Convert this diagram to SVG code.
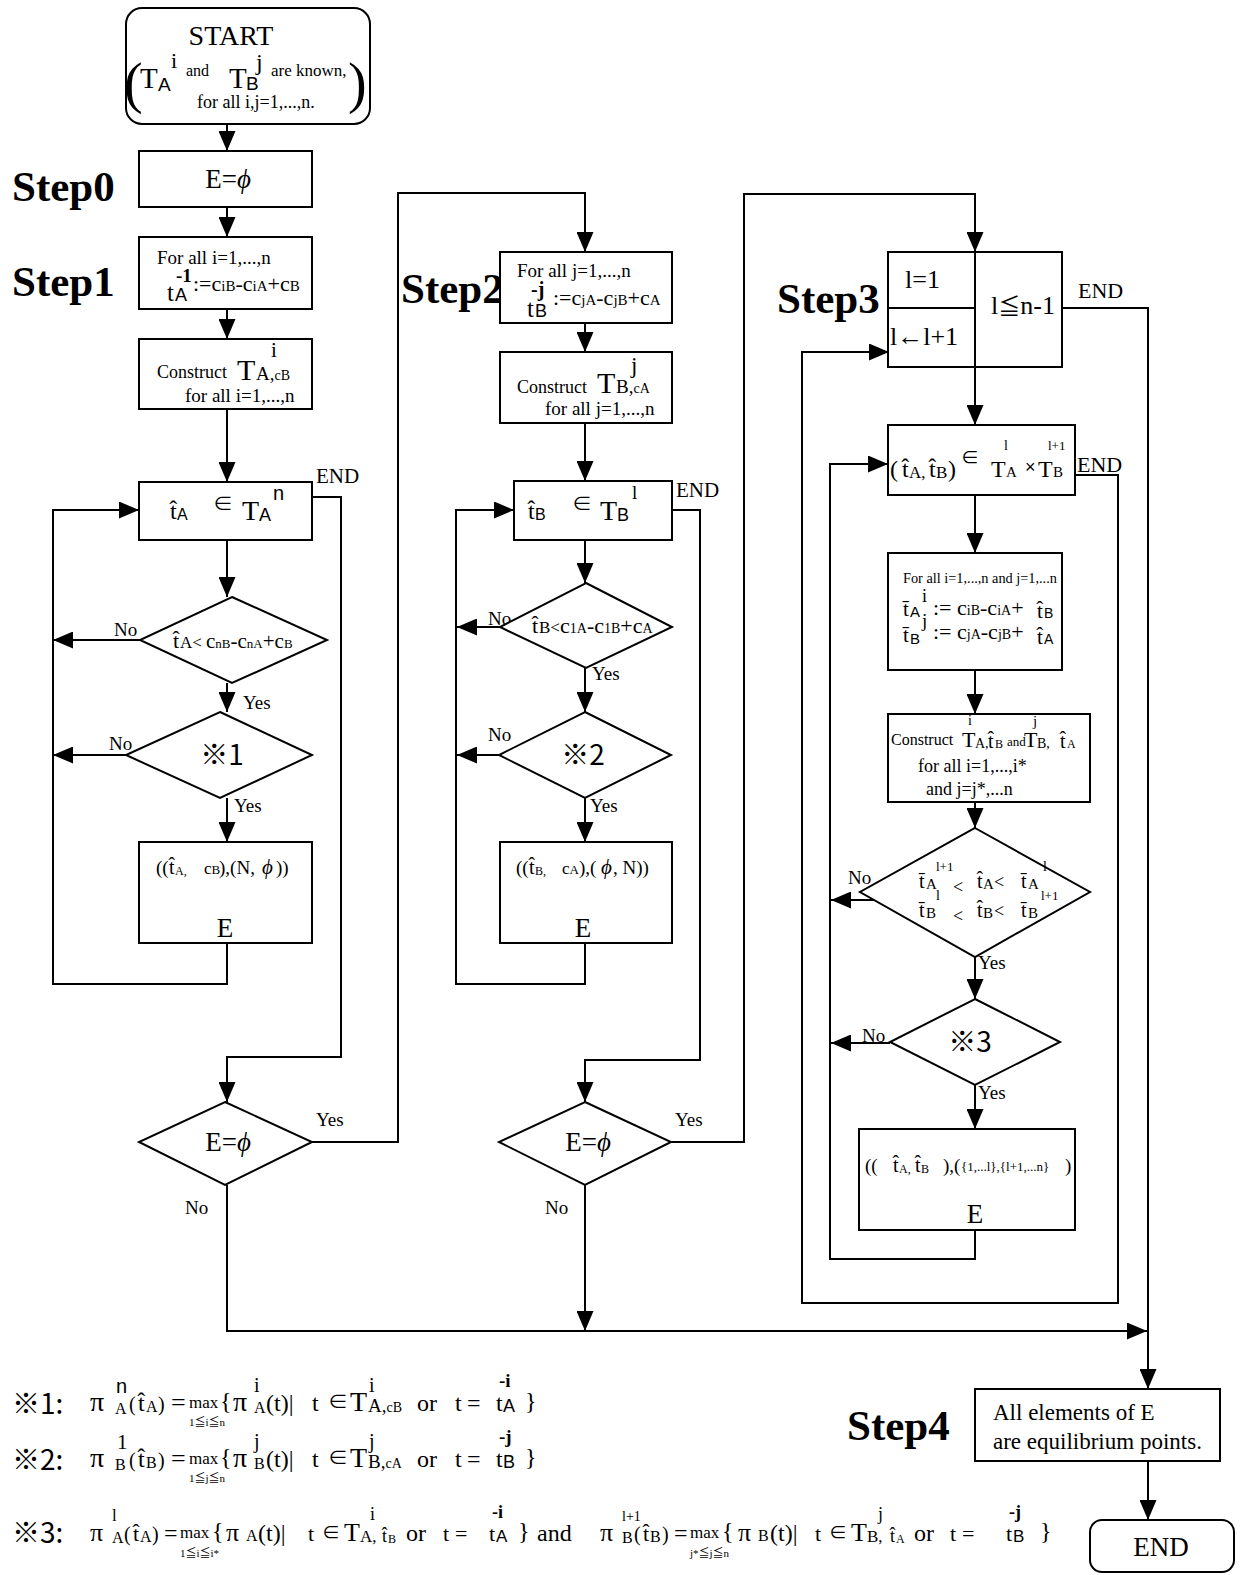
<svg xmlns="http://www.w3.org/2000/svg" width="1241" height="1575" viewBox="0 0 1241 1575">
<defs>
<style>
.ln{stroke:#000;stroke-width:2;fill:none}
.bx{stroke:#000;stroke-width:2;fill:#fff}
text{font-family:"Liberation Serif","Times New Roman","Noto Sans CJK JP",serif;fill:#000}
.sans{font-family:"Liberation Sans",Arial,sans-serif}
.cjk{font-family:"Noto Sans CJK JP",sans-serif}
.step{font-weight:bold;font-size:43px}
.lb{font-size:19px}
</style>
<marker id="ah" markerUnits="userSpaceOnUse" markerWidth="20" markerHeight="17" refX="20" refY="8.5" orient="auto"><path d="M0,0 L20,8.5 L0,17 z" fill="#000"/></marker>
</defs>
<rect width="1241" height="1575" fill="#fff"/>

<g id="connectors" class="ln">
<path d="M227,124V151" marker-end="url(#ah)"/>
<path d="M227,207V237" marker-end="url(#ah)"/>
<path d="M227,309V339" marker-end="url(#ah)"/>
<path d="M227,409V482" marker-end="url(#ah)"/>
<path d="M227,540V597" marker-end="url(#ah)"/>
<path d="M227,683V712" marker-end="url(#ah)"/>
<path d="M227,798V842" marker-end="url(#ah)"/>
<path d="M227,884V912" marker-end="url(#ah)"/>
<path d="M227,943V984H53V510H139" marker-end="url(#ah)"/>
<path d="M140,640H53" marker-end="url(#ah)"/>
<path d="M126,755H53" marker-end="url(#ah)"/>
<path d="M312,497H341V1057H227V1102" marker-end="url(#ah)"/>
<path d="M311,1142H398V193H585V252" marker-end="url(#ah)"/>
<path d="M227,1185V1331H1147" marker-end="url(#ah)"/>

<path d="M585,323V352" marker-end="url(#ah)"/>
<path d="M585,423V481" marker-end="url(#ah)"/>
<path d="M585,540V583" marker-end="url(#ah)"/>
<path d="M585,668V712" marker-end="url(#ah)"/>
<path d="M585,798V842" marker-end="url(#ah)"/>
<path d="M585,884V912" marker-end="url(#ah)"/>
<path d="M585,943V984H456V510H514" marker-end="url(#ah)"/>
<path d="M500,627H457" marker-end="url(#ah)"/>
<path d="M499,755H457" marker-end="url(#ah)"/>
<path d="M672,510H700V1060H585V1102" marker-end="url(#ah)"/>
<path d="M671,1142H744V194H975V252" marker-end="url(#ah)"/>
<path d="M585,1185V1331" marker-end="url(#ah)"/>

<path d="M975,367V425" marker-end="url(#ah)"/>
<path d="M975,495V553" marker-end="url(#ah)"/>
<path d="M975,670V714" marker-end="url(#ah)"/>
<path d="M975,802V828" marker-end="url(#ah)"/>
<path d="M975,957V999" marker-end="url(#ah)"/>
<path d="M975,1085V1129" marker-end="url(#ah)"/>
<path d="M975,1176V1202" marker-end="url(#ah)"/>
<path d="M975,1230V1259H830V464H888" marker-end="url(#ah)"/>
<path d="M874,900H831" marker-end="url(#ah)"/>
<path d="M890,1043H831" marker-end="url(#ah)"/>
<path d="M1075,475H1118V1303H802V352H889" marker-end="url(#ah)"/>
<path d="M1062,308H1148V1389" marker-end="url(#ah)"/>
<path d="M1148,1461V1520" marker-end="url(#ah)"/>
</g>

<g id="labels" class="lb">
<text x="316" y="483" font-size="21">END</text>
<text x="114" y="636">No</text>
<text x="109" y="750">No</text>
<text x="243" y="709">Yes</text>
<text x="234" y="812">Yes</text>
<text x="316" y="1126">Yes</text>
<text x="185" y="1214">No</text>
<text x="676" y="497" font-size="21">END</text>
<text x="488" y="625">No</text>
<text x="488" y="741">No</text>
<text x="592" y="680">Yes</text>
<text x="590" y="812">Yes</text>
<text x="675" y="1126">Yes</text>
<text x="545" y="1214">No</text>
<text x="1078" y="298" font-size="22">END</text>
<text x="1077" y="472" font-size="22">END</text>
<text x="848" y="884">No</text>
<text x="978" y="969">Yes</text>
<text x="862" y="1042">No</text>
<text x="978" y="1099">Yes</text>
</g>

<g id="steps" class="step">
<text x="12" y="201">Step0</text>
<text x="12" y="296">Step1</text>
<text x="401" y="303">Step2</text>
<text x="777" y="313">Step3</text>
<text x="847" y="1440">Step4</text>
</g>

<g id="start">
<rect x="126" y="8" width="244" height="116" rx="16" class="bx"/>
<text x="231" y="45" font-size="28" text-anchor="middle">START</text>
<text x="124" y="102" font-size="56">(</text>
<text x="140" y="88" font-size="29">T</text>
<text x="158" y="91" font-size="19" class="sans">A</text>
<text x="171" y="68" font-size="22">i</text>
<text x="186" y="76" font-size="16">and</text>
<text x="229" y="88" font-size="29">T</text>
<text x="246" y="90" font-size="19" class="sans">B</text>
<text x="256" y="70" font-size="24">j</text>
<text x="271" y="76" font-size="17">are known,</text>
<text x="348" y="102" font-size="56">)</text>
<text x="197" y="108" font-size="18">for all i,j=1,...,n.</text>
</g>

<g id="step0">
<rect x="139" y="151" width="173" height="56" class="bx"/>
<text x="228" y="188" font-size="27" text-anchor="middle">E=<tspan font-style="italic">ϕ</tspan></text>
</g>

<g id="step1">
<rect x="139" y="237" width="173" height="72" class="bx"/>
<text x="157" y="264" font-size="19">For all i=1,...,n</text>
<text x="176" y="282" font-size="19" font-weight="bold">-1</text>
<text x="167" y="301" font-size="25">t</text>
<text x="175" y="301" font-size="18" class="sans">A</text>
<text x="193" y="291" font-size="22">:=c<tspan font-size="15">iB</tspan>-c<tspan font-size="15">iA</tspan>+c<tspan font-size="15">B</tspan></text>
</g>

<g id="construct1">
<rect x="139" y="339" width="173" height="70" class="bx"/>
<text x="157" y="378" font-size="18">Construct</text>
<text x="237" y="380" font-size="30">T</text>
<text x="256" y="380" font-size="19">A,<tspan font-size="14">cB</tspan></text>
<text x="271" y="357" font-size="21">i</text>
<text x="185" y="402" font-size="19">for all i=1,...,n</text>
</g>

<g id="loop1">
<rect x="139" y="482" width="173" height="58" class="bx"/>
<text x="170" y="519" font-size="24">t&#x302;</text>
<text x="177" y="520" font-size="16" class="sans">A</text>
<text x="213" y="511" font-size="20">∈</text>
<text x="242" y="520" font-size="28">T</text>
<text x="259" y="521" font-size="18" class="sans">A</text>
<text x="273" y="500" font-size="20" class="sans">n</text>
</g>

<g id="cond1">
<polygon points="232,597 327,640 232,683 140,640" class="bx"/>
<text x="173" y="648" font-size="22">t&#x302;</text>
<text x="180" y="648" font-size="17">A&lt;</text>
<text x="206" y="648" font-size="21">c<tspan font-size="13">nB</tspan>-c<tspan font-size="13">nA</tspan>+c<tspan font-size="13">B</tspan></text>
</g>

<g id="check1">
<polygon points="220,712 312,755 220,798 126,755" class="bx"/>
<text x="222" y="765" font-size="28" text-anchor="middle" class="cjk">※1</text>
</g>

<g id="add1">
<rect x="139" y="842" width="173" height="101" class="bx"/>
<text x="156" y="874" font-size="19">((</text>
<text x="169" y="874" font-size="20">t&#x302;</text>
<text x="175" y="875" font-size="12">A,</text>
<text x="204" y="874" font-size="17">c<tspan font-size="13">B</tspan></text>
<text x="219" y="874" font-size="19">),(N,</text>
<text x="262" y="874" font-size="21" font-style="italic">ϕ</text>
<text x="276" y="874" font-size="19">))</text>
<text x="225" y="937" font-size="27" text-anchor="middle">E</text>
</g>

<g id="empty1">
<polygon points="225,1102 312,1142 225,1185 139,1142" class="bx"/>
<text x="228" y="1151" font-size="27" text-anchor="middle">E=<tspan font-style="italic">ϕ</tspan></text>
</g>

<g id="step2">
<rect x="500" y="252" width="172" height="71" class="bx"/>
<text x="517" y="277" font-size="19">For all j=1,...,n</text>
<text x="531" y="296" font-size="20" font-weight="bold">-j</text>
<text x="527" y="317" font-size="25">t</text>
<text x="535" y="317" font-size="18" class="sans">B</text>
<text x="553" y="305" font-size="22">:=c<tspan font-size="15">jA</tspan>-c<tspan font-size="15">jB</tspan>+c<tspan font-size="15">A</tspan></text>
</g>

<g id="construct2">
<rect x="500" y="352" width="172" height="71" class="bx"/>
<text x="517" y="393" font-size="18">Construct</text>
<text x="597" y="393" font-size="30">T</text>
<text x="616" y="393" font-size="19">B,<tspan font-size="14">cA</tspan></text>
<text x="631" y="373" font-size="23">j</text>
<text x="545" y="415" font-size="19">for all j=1,...,n</text>
</g>

<g id="loop2">
<rect x="514" y="481" width="158" height="59" class="bx"/>
<text x="528" y="519" font-size="24">t&#x302;</text>
<text x="535" y="520" font-size="16" class="sans">B</text>
<text x="572" y="511" font-size="20">∈</text>
<text x="600" y="520" font-size="28">T</text>
<text x="617" y="521" font-size="18" class="sans">B</text>
<text x="632" y="499" font-size="19">l</text>
</g>

<g id="cond2">
<polygon points="586,583 672,627 586,668 500,627" class="bx"/>
<text x="532" y="633" font-size="22">t&#x302;</text>
<text x="539" y="633" font-size="17">B&lt;</text>
<text x="560" y="633" font-size="22">c<tspan font-size="14">1A</tspan>-c<tspan font-size="14">1B</tspan>+c<tspan font-size="14">A</tspan></text>
</g>

<g id="check2">
<polygon points="585,712 671,755 585,798 499,755" class="bx"/>
<text x="583" y="765" font-size="28" text-anchor="middle" class="cjk">※2</text>
</g>

<g id="add2">
<rect x="500" y="842" width="172" height="101" class="bx"/>
<text x="516" y="874" font-size="19">((</text>
<text x="529" y="874" font-size="20">t&#x302;</text>
<text x="535" y="875" font-size="12">B,</text>
<text x="562" y="874" font-size="17">c<tspan font-size="13">A</tspan></text>
<text x="579" y="874" font-size="19">),(</text>
<text x="601" y="874" font-size="21" font-style="italic">ϕ</text>
<text x="613" y="874" font-size="19">, N))</text>
<text x="583" y="937" font-size="27" text-anchor="middle">E</text>
</g>

<g id="empty2">
<polygon points="585,1102 671,1142 585,1185 499,1142" class="bx"/>
<text x="588" y="1151" font-size="27" text-anchor="middle">E=<tspan font-style="italic">ϕ</tspan></text>
</g>

<g id="step3">
<rect x="888" y="252" width="174" height="115" class="bx"/>
<path d="M975,252V367M888,308H975" class="ln"/>
<text x="905" y="288" font-size="26">l=1</text>
<text x="991" y="314" font-size="26">l<tspan font-size="22">≦</tspan>n-1</text>
<text x="890" y="345" font-size="26">l←l+1</text>
</g>

<g id="loop3">
<rect x="888" y="425" width="187" height="70" class="bx"/>
<text x="890" y="477" font-size="24">(</text>
<text x="902" y="477" font-size="24">t&#x302;</text>
<text x="909" y="478" font-size="17">A,</text>
<text x="929" y="477" font-size="24">t&#x302;</text>
<text x="936" y="478" font-size="17">B</text>
<text x="948" y="477" font-size="24">)</text>
<text x="961" y="464" font-size="18">∈</text>
<text x="991" y="477" font-size="24">T</text>
<text x="1006" y="477" font-size="15">A</text>
<text x="1004" y="450" font-size="14">l</text>
<text x="1025" y="473" font-size="18" class="sans">×</text>
<text x="1038" y="477" font-size="24">T</text>
<text x="1053" y="477" font-size="15">B</text>
<text x="1048" y="450" font-size="13">l+1</text>
</g>

<g id="bounds">
<rect x="888" y="553" width="174" height="117" class="bx"/>
<text x="903" y="583" font-size="14.3">For all i=1,...,n and j=1,...n</text>
<text x="903" y="616" font-size="21">t&#x304;</text>
<text x="910" y="617" font-size="15" class="sans">A</text>
<text x="922" y="602" font-size="18">i</text>
<text x="933" y="615" font-size="22">:= c<tspan font-size="14">iB</tspan>-c<tspan font-size="14">iA</tspan>+</text>
<text x="1037" y="618" font-size="21">t&#x302;</text>
<text x="1044" y="618" font-size="14" class="sans">B</text>
<text x="903" y="642" font-size="21">t&#x304;</text>
<text x="910" y="644" font-size="15" class="sans">B</text>
<text x="922" y="627" font-size="19">j</text>
<text x="933" y="639" font-size="22">:= c<tspan font-size="14">jA</tspan>-c<tspan font-size="14">jB</tspan>+</text>
<text x="1037" y="644" font-size="21">t&#x302;</text>
<text x="1044" y="644" font-size="14" class="sans">A</text>
</g>

<g id="construct3">
<rect x="888" y="714" width="202" height="88" class="bx"/>
<text x="891" y="745" font-size="16">Construct</text>
<text x="962" y="747" font-size="22">T</text>
<text x="968" y="725" font-size="14">i</text>
<text x="975" y="748" font-size="14">A,</text>
<text x="988" y="748" font-size="20">t&#x302;</text>
<text x="995" y="748" font-size="12">B</text>
<text x="1007" y="746" font-size="13">and</text>
<text x="1024" y="747" font-size="22">T</text>
<text x="1033" y="726" font-size="15">j</text>
<text x="1037" y="748" font-size="14">B,</text>
<text x="1060" y="748" font-size="20">t&#x302;</text>
<text x="1067" y="748" font-size="12">A</text>
<text x="918" y="772" font-size="18">for all i=1,...,i*</text>
<text x="926" y="795" font-size="18">and  j=j*,...n</text>
</g>

<g id="cond3">
<polygon points="975,828 1090,892 975,957 860,892" class="bx"/>
<text x="919" y="888" font-size="20">t&#x304;</text>
<text x="926" y="889" font-size="15">A</text>
<text x="936" y="871" font-size="13">l+1</text>
<text x="953" y="893" font-size="18">&lt;</text>
<text x="977" y="888" font-size="20">t&#x302;</text>
<text x="983" y="889" font-size="15">A</text>
<text x="994" y="888" font-size="18">&lt;</text>
<text x="1021" y="888" font-size="20">t&#x304;</text>
<text x="1028" y="889" font-size="15">A</text>
<text x="1043" y="871" font-size="14">l</text>
<text x="919" y="917" font-size="20">t&#x304;</text>
<text x="926" y="918" font-size="15">B</text>
<text x="936" y="900" font-size="14">l</text>
<text x="953" y="922" font-size="18">&lt;</text>
<text x="977" y="917" font-size="20">t&#x302;</text>
<text x="983" y="918" font-size="15">B</text>
<text x="994" y="917" font-size="18">&lt;</text>
<text x="1021" y="917" font-size="20">t&#x304;</text>
<text x="1028" y="918" font-size="15">B</text>
<text x="1041" y="900" font-size="13">l+1</text>
</g>

<g id="check3">
<polygon points="975,999 1060,1042 975,1085 890,1042" class="bx"/>
<text x="970" y="1052" font-size="28" text-anchor="middle" class="cjk">※3</text>
</g>

<g id="add3">
<rect x="859" y="1129" width="216" height="101" class="bx"/>
<text x="865" y="1172" font-size="19">((</text>
<text x="893" y="1172" font-size="20">t&#x302;</text>
<text x="899" y="1173" font-size="12">A,</text>
<text x="915" y="1172" font-size="20">t&#x302;</text>
<text x="921" y="1173" font-size="12">B</text>
<text x="943" y="1172" font-size="19">),(</text>
<text x="961" y="1171" font-size="13">{1,...l},{l+1,...n}</text>
<text x="1065" y="1172" font-size="19">)</text>
<text x="975" y="1223" font-size="27" text-anchor="middle">E</text>
</g>

<g id="step4">
<rect x="975" y="1389" width="245" height="72" class="bx"/>
<text x="993" y="1420" font-size="23">All elements of E</text>
<text x="993" y="1449" font-size="23">are equilibrium points.</text>
</g>

<g id="end">
<rect x="1090" y="1520" width="144" height="52" rx="12" class="bx"/>
<text x="1161" y="1556" font-size="27" text-anchor="middle">END</text>
</g>

<g id="notes">
<text x="12" y="1414" font-size="28" class="cjk">※1:</text>
<text x="90" y="1411" font-size="28">π</text>
<text x="116" y="1393" font-size="20" class="sans">n</text>
<text x="115" y="1414" font-size="16">A</text>
<text x="129" y="1411" font-size="20">(</text>
<text x="138" y="1411" font-size="24">t&#x302;</text>
<text x="146" y="1412" font-size="16">A</text>
<text x="158" y="1411" font-size="20">)</text>
<text x="171" y="1411" font-size="26">=</text>
<text x="189" y="1408" font-size="17">max</text>
<text x="189" y="1426" font-size="11">1≦i≦n</text>
<text x="220" y="1409" font-size="24">{</text>
<text x="233" y="1411" font-size="28">π</text>
<text x="254" y="1392" font-size="20">i</text>
<text x="254" y="1413" font-size="16">A</text>
<text x="266" y="1411" font-size="24">(t)|</text>
<text x="312" y="1411" font-size="24">t</text>
<text x="328" y="1409" font-size="20">∈</text>
<text x="350" y="1411" font-size="28">T</text>
<text x="369" y="1392" font-size="20">i</text>
<text x="368" y="1412" font-size="19">A,<tspan font-size="14">cB</tspan></text>
<text x="417" y="1411" font-size="24">or</text>
<text x="455" y="1411" font-size="24">t</text>
<text x="467" y="1411" font-size="24">=</text>
<text x="496" y="1411" font-size="24">t</text>
<text x="503" y="1412" font-size="18" class="sans">A</text>
<text x="499" y="1387" font-size="19" font-weight="bold">-i</text>
<text x="525" y="1409" font-size="24">}</text>

<text x="12" y="1470" font-size="28" class="cjk">※2:</text>
<text x="90" y="1467" font-size="28">π</text>
<text x="117" y="1449" font-size="21">1</text>
<text x="115" y="1470" font-size="16">B</text>
<text x="129" y="1467" font-size="20">(</text>
<text x="138" y="1467" font-size="24">t&#x302;</text>
<text x="146" y="1468" font-size="16">B</text>
<text x="158" y="1467" font-size="20">)</text>
<text x="171" y="1467" font-size="26">=</text>
<text x="189" y="1464" font-size="17">max</text>
<text x="189" y="1482" font-size="11">1≦j≦n</text>
<text x="220" y="1465" font-size="24">{</text>
<text x="233" y="1467" font-size="28">π</text>
<text x="254" y="1448" font-size="20">j</text>
<text x="254" y="1469" font-size="16">B</text>
<text x="266" y="1467" font-size="24">(t)|</text>
<text x="312" y="1467" font-size="24">t</text>
<text x="328" y="1465" font-size="20">∈</text>
<text x="350" y="1467" font-size="28">T</text>
<text x="369" y="1448" font-size="20">j</text>
<text x="368" y="1468" font-size="19">B,<tspan font-size="14">cA</tspan></text>
<text x="417" y="1467" font-size="24">or</text>
<text x="455" y="1467" font-size="24">t</text>
<text x="467" y="1467" font-size="24">=</text>
<text x="496" y="1467" font-size="24">t</text>
<text x="503" y="1468" font-size="18" class="sans">B</text>
<text x="499" y="1443" font-size="19" font-weight="bold">-j</text>
<text x="525" y="1465" font-size="24">}</text>

<text x="12" y="1543" font-size="28" class="cjk">※3:</text>
<text x="90" y="1541" font-size="26">π</text>
<text x="112" y="1521" font-size="17">l</text>
<text x="112" y="1543" font-size="16">A</text>
<text x="124" y="1541" font-size="20">(</text>
<text x="133" y="1541" font-size="22">t&#x302;</text>
<text x="140" y="1542" font-size="16">A</text>
<text x="152" y="1541" font-size="20">)</text>
<text x="164" y="1541" font-size="24">=</text>
<text x="180" y="1538" font-size="17">max</text>
<text x="180" y="1557" font-size="11">1≦i≦i*</text>
<text x="212" y="1539" font-size="24">{</text>
<text x="226" y="1541" font-size="26">π</text>
<text x="246" y="1541" font-size="16">A</text>
<text x="258" y="1541" font-size="24">(t)|</text>
<text x="308" y="1541" font-size="22">t</text>
<text x="322" y="1539" font-size="18">∈</text>
<text x="344" y="1541" font-size="26">T</text>
<text x="370" y="1520" font-size="18">i</text>
<text x="360" y="1542" font-size="17">A,</text>
<text x="382" y="1542" font-size="18">t&#x302;</text>
<text x="388" y="1543" font-size="12">B</text>
<text x="406" y="1541" font-size="24">or</text>
<text x="443" y="1541" font-size="22">t</text>
<text x="455" y="1541" font-size="22">=</text>
<text x="489" y="1541" font-size="22">t</text>
<text x="496" y="1542" font-size="17" class="sans">A</text>
<text x="492" y="1518" font-size="18" font-weight="bold">-i</text>
<text x="518" y="1539" font-size="24">}</text>
<text x="537" y="1541" font-size="24">and</text>
<text x="600" y="1541" font-size="26">π</text>
<text x="622" y="1521" font-size="14">l+1</text>
<text x="622" y="1543" font-size="16">B</text>
<text x="634" y="1541" font-size="20">(</text>
<text x="643" y="1541" font-size="22">t&#x302;</text>
<text x="650" y="1542" font-size="16">B</text>
<text x="662" y="1541" font-size="20">)</text>
<text x="674" y="1541" font-size="24">=</text>
<text x="690" y="1538" font-size="17">max</text>
<text x="690" y="1557" font-size="11">j*≦j≦n</text>
<text x="722" y="1539" font-size="24">{</text>
<text x="738" y="1541" font-size="26">π</text>
<text x="758" y="1541" font-size="16">B</text>
<text x="770" y="1541" font-size="24">(t)|</text>
<text x="815" y="1541" font-size="22">t</text>
<text x="829" y="1539" font-size="18">∈</text>
<text x="851" y="1541" font-size="26">T</text>
<text x="878" y="1520" font-size="18">j</text>
<text x="867" y="1542" font-size="17">B,</text>
<text x="890" y="1542" font-size="18">t&#x302;</text>
<text x="896" y="1543" font-size="12">A</text>
<text x="914" y="1541" font-size="24">or</text>
<text x="950" y="1541" font-size="22">t</text>
<text x="962" y="1541" font-size="22">=</text>
<text x="1006" y="1541" font-size="22">t</text>
<text x="1013" y="1542" font-size="17" class="sans">B</text>
<text x="1009" y="1518" font-size="18" font-weight="bold">-j</text>
<text x="1040" y="1539" font-size="24">}</text>
</g>
</svg>
